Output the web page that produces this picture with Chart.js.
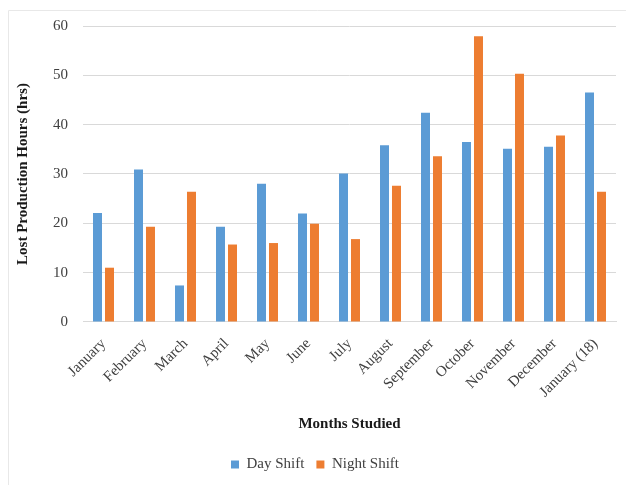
<!DOCTYPE html>
<html>
<head>
<meta charset="utf-8">
<script src="https://cdn.jsdelivr.net/npm/chart.js@4/dist/chart.umd.min.js"></script>
<style>
  html, body { margin: 0; padding: 0; background: #ffffff; }
  #wrap { position: relative; width: 626px; height: 485px; }
</style>
</head>
<body>
<div id="wrap"><canvas id="c" width="626" height="485"></canvas></div>
<script>
const months = ["January", "February", "March", "April", "May", "June", "July",
  "August", "September", "October", "November", "December", "January (18)"];
const dayShift = [22.1, 30.9, 7.4, 19.3, 28.0, 22.0, 30.1, 35.8, 42.4, 36.5, 35.1, 35.5, 46.5];
const nightShift = [11.0, 19.3, 26.4, 15.7, 16.0, 19.9, 16.8, 27.6, 33.6, 57.9, 50.3, 37.8, 26.4];
const yTicks = [0, 10, 20, 30, 40, 50, 60];

const serif = "'Liberation Serif', 'Times New Roman', serif";

// faint frame around the figure
const framePlugin = {
  id: 'frame',
  beforeDraw(chart) {
    const ctx = chart.ctx;
    ctx.save();
    ctx.strokeStyle = '#e8e8e8';
    ctx.lineWidth = 1;
    ctx.beginPath();
    ctx.moveTo(8.5, 485);
    ctx.lineTo(8.5, 10.5);
    ctx.lineTo(626, 10.5);
    ctx.stroke();
    ctx.restore();
  }
};

new Chart(document.getElementById('c'), {
  type: 'bar',
  data: {
    labels: months,
    datasets: [
      { label: 'Day Shift', data: dayShift, backgroundColor: '#5B9BD5', barPercentage: 0.75, categoryPercentage: 0.585 },
      { label: 'Night Shift', data: nightShift, backgroundColor: '#ED7D31', barPercentage: 0.75, categoryPercentage: 0.585 }
    ]
  },
  options: {
    responsive: false,
    animation: false,
    devicePixelRatio: 1,
    layout: { padding: { left: 14, right: 10, top: 26, bottom: 3 } },
    plugins: {
      legend: {
        position: 'bottom',
        labels: {
          boxWidth: 8, boxHeight: 8, padding: 12,
          color: '#404040',
          font: { family: serif, size: 15 }
        }
      },
      tooltip: { enabled: false }
    },
    scales: {
      x: {
        grid: { display: false },
        border: { color: '#d9d9d9' },
        ticks: {
          color: '#404040',
          font: { family: serif, size: 15 },
          maxRotation: 45, minRotation: 45, padding: 5
        },
        title: {
          display: true, text: 'Months Studied', color: '#1a1a1a',
          font: { family: serif, size: 15, weight: 'bold' },
          padding: { top: 9, bottom: 12 }
        }
      },
      y: {
        min: 0, max: 60,
        afterBuildTicks(axis) { axis.ticks = yTicks.map(v => ({ value: v })); },
        grid: { color: '#d9d9d9', drawTicks: false },
        border: { display: false },
        ticks: {
          color: '#404040',
          font: { family: serif, size: 15 },
          padding: 15
        },
        title: {
          display: true, text: 'Lost Production Hours (hrs)', color: '#1a1a1a',
          font: { family: serif, size: 15, weight: 'bold' },
          padding: { top: 0, bottom: 6 }
        }
      }
    }
  },
  plugins: [framePlugin]
});
</script>
</body>
</html>
